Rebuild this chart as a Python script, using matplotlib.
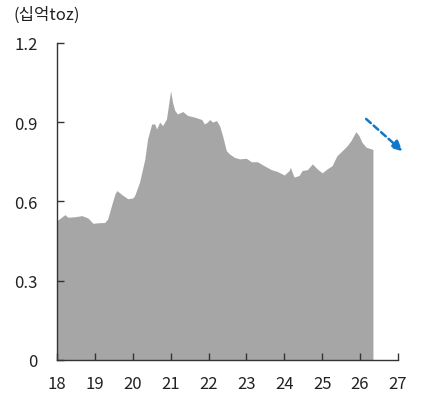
import matplotlib
matplotlib.use('Agg')
import matplotlib.pyplot as plt

plt.rcParams['font.family'] = ['Noto Sans CJK KR', 'DejaVu Sans']

# time axis in years (18 = 2018), values in billion toz
years = [18.00, 18.21, 18.29, 18.47, 18.66, 18.82, 18.95, 19.08, 19.26, 19.34, 19.45,
         19.53, 19.58, 19.71, 19.87, 20.00, 20.05, 20.18, 20.32, 20.39, 20.50, 20.58,
         20.63, 20.71, 20.79, 20.89, 21.00, 21.05, 21.11, 21.18, 21.32, 21.45, 21.63,
         21.82, 21.89, 21.97, 22.03, 22.11, 22.21, 22.29, 22.37, 22.47, 22.55, 22.68,
         22.82, 23.00, 23.13, 23.29, 23.47, 23.66, 23.82, 24.00, 24.13, 24.16, 24.24,
         24.26, 24.39, 24.47, 24.61, 24.74, 24.87, 25.00, 25.13, 25.26, 25.39, 25.53,
         25.66, 25.76, 25.89, 25.97, 26.05, 26.16, 26.29, 26.34]
values = [0.527, 0.550, 0.540, 0.542, 0.546, 0.537, 0.517, 0.519, 0.520, 0.534, 0.590,
          0.628, 0.641, 0.626, 0.610, 0.613, 0.622, 0.673, 0.761, 0.836, 0.893, 0.893,
          0.874, 0.900, 0.887, 0.912, 1.019, 0.975, 0.944, 0.931, 0.940, 0.925, 0.919,
          0.910, 0.893, 0.900, 0.910, 0.900, 0.906, 0.887, 0.849, 0.792, 0.780, 0.767,
          0.761, 0.763, 0.750, 0.750, 0.735, 0.720, 0.713, 0.700, 0.717, 0.729, 0.698,
          0.692, 0.698, 0.717, 0.720, 0.742, 0.723, 0.708, 0.723, 0.735, 0.773, 0.792,
          0.811, 0.830, 0.864, 0.849, 0.824, 0.805, 0.799, 0.796]

xticks = list(range(18, 28))
yticks = [0, 0.3, 0.6, 0.9, 1.2]
ytick_labels = ['0', '0.3', '0.6', '0.9', '1.2']
unit_label = '(십억toz)'

arrow_start = (26.16, 0.912)
arrow_end = (27.12, 0.790)
fill_color = '#A6A6A6'
arrow_color = '#1077C9'

fig = plt.figure(figsize=(4.22, 4.06), dpi=100)
ax = fig.add_axes([0.135, 0.111, 0.808, 0.781])

ax.fill_between(years, 0, values, color=fill_color, linewidth=0, zorder=1)

ax.set_xlim(18, 27)
ax.set_ylim(0, 1.2)
ax.set_xticks(xticks)
ax.set_xticklabels([str(t) for t in xticks])
ax.set_yticks(yticks)
ax.set_yticklabels(ytick_labels)

for s in ['top', 'right']:
    ax.spines[s].set_visible(False)
for s in ['left', 'bottom']:
    ax.spines[s].set_color('#333333')
    ax.spines[s].set_linewidth(1.0)
    ax.spines[s].set_zorder(3)

ax.tick_params(axis='both', direction='in', length=5, width=1.0, color='#333333',
               labelsize=12, labelcolor='#222222')
ax.tick_params(axis='x', pad=11)
ax.tick_params(axis='y', pad=14)

# dashed trend arrow
ax.annotate('', xy=arrow_end, xytext=arrow_start,
            arrowprops=dict(arrowstyle='-|>,head_length=0.6,head_width=0.3',
                            color=arrow_color, lw=1.8, linestyle=(0, (2.5, 1.5)),
                            shrinkA=0, shrinkB=0),
            annotation_clip=False)

fig.text(0.033, 0.963, unit_label, fontsize=12, color='#222222', va='center', ha='left')

fig.savefig('out.png', dpi=100)
